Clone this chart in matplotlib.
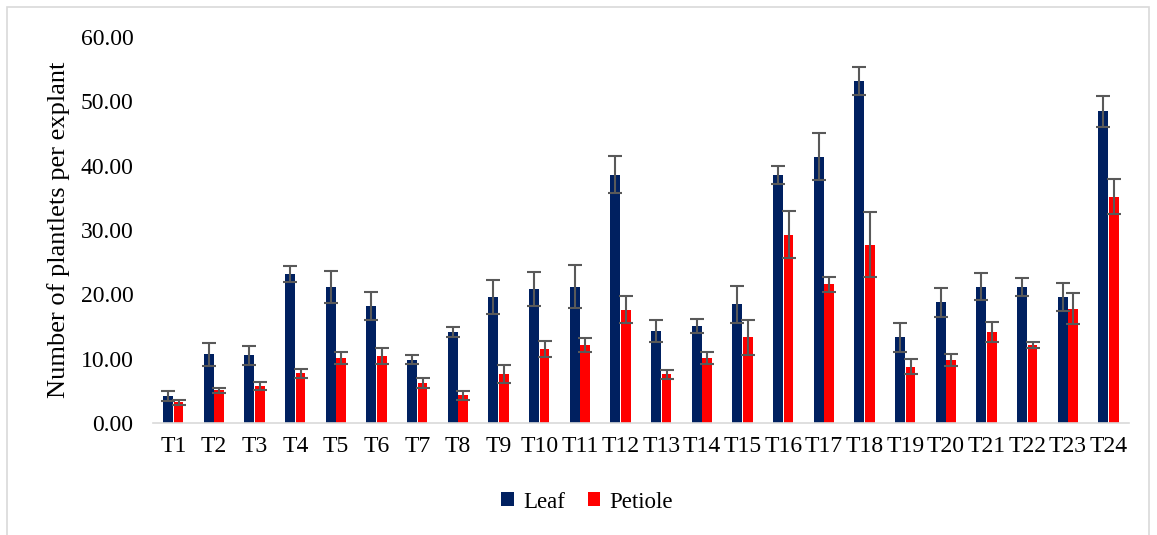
import matplotlib.pyplot as plt
import numpy as np
from matplotlib.patches import Rectangle

# treatments
labels = ['T%d' % i for i in range(1, 25)]

# mean number of plantlets per explant
leaf = [4.25, 10.7, 10.5, 23.2, 21.2, 18.2, 9.8, 14.15, 19.6, 20.8, 21.2, 38.6,
        14.3, 15.1, 18.45, 38.6, 41.4, 53.2, 13.3, 18.75, 21.2, 21.2, 19.6, 48.45]
petiole = [3.2, 5.1, 5.75, 7.7, 10.1, 10.4, 6.2, 4.3, 7.6, 11.5, 12.1, 17.6,
           7.6, 10.1, 13.3, 29.3, 21.55, 27.7, 8.75, 9.8, 14.15, 12.1, 17.8, 35.2]

# error bars (half-length)
leaf_err = [0.75, 1.8, 1.5, 1.25, 2.5, 2.2, 0.7, 0.75, 2.6, 2.6, 3.3, 2.9,
            1.7, 1.1, 2.85, 1.4, 3.7, 2.2, 2.2, 2.25, 2.1, 1.4, 2.2, 2.45]
petiole_err = [0.4, 0.4, 0.65, 0.7, 0.9, 1.3, 0.8, 0.7, 1.4, 1.3, 1.1, 2.1,
               0.7, 1.0, 2.7, 3.7, 1.15, 5.05, 1.2, 1.0, 1.55, 0.5, 2.4, 2.75]

plt.rcParams['font.family'] = ['Liberation Serif', 'DejaVu Serif']

fig = plt.figure(figsize=(11.57, 5.35), dpi=100)
ax = fig.add_axes([0.1322, 0.2093, 0.8436, 0.7215])

x = np.arange(len(labels))
w = 0.24
err_kw = dict(ecolor='#595959', elinewidth=1.5, capsize=5, capthick=1.5)
ax.bar(x - 0.13, leaf, w, color='#002060', label='Leaf',
       yerr=leaf_err, error_kw=err_kw)
ax.bar(x + 0.13, petiole, w, color='#FF0000', label='Petiole',
       yerr=petiole_err, error_kw=err_kw)

ax.set_xlim(-0.5, len(labels) - 0.5)
ax.set_ylim(0, 60)
ax.set_yticks(np.arange(0, 61, 10))
ax.set_yticklabels(['%.2f' % v for v in np.arange(0, 61, 10)])
ax.set_xticks(x)
ax.set_xticklabels(labels)
ax.tick_params(axis='y', length=0, pad=14, labelsize=17)
ax.tick_params(axis='x', length=0, pad=9, labelsize=17)
ax.set_ylabel('Number of plantlets per explant', fontsize=19, labelpad=8)

for s in ['top', 'right', 'left']:
    ax.spines[s].set_visible(False)
ax.spines['bottom'].set_color('#D9D9D9')
ax.spines['bottom'].set_linewidth(1.2)

fig.legend(loc='center', bbox_to_anchor=(587 / 1157, 1 - 502 / 535), ncol=2,
           frameon=False, fontsize=16.5, handlelength=0.55, handleheight=0.55,
           handletextpad=0.4, columnspacing=1.0)

# outer chart border
fig.patches.append(Rectangle((7 / 1157, -0.01), 1142 / 1157, 1 - 7 / 535 + 0.01,
                             transform=fig.transFigure, fill=False,
                             edgecolor='#D9D9D9', linewidth=1.2))

fig.savefig('out.png', dpi=100)
